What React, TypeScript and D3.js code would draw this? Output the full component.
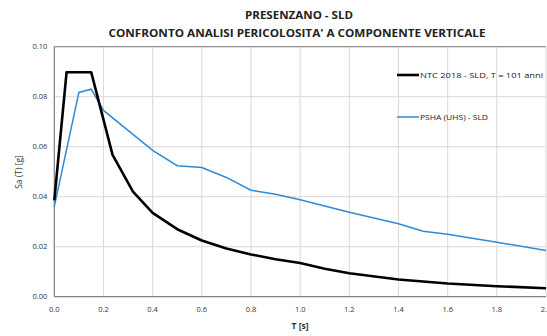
import React from "react";
import * as d3 from "d3";

const ntcT = [0, 0.05, 0.15, 0.237, 0.32, 0.4, 0.5, 0.6, 0.7, 0.8, 0.9, 1.0, 1.1, 1.2, 1.4, 1.6, 1.8, 2.0];
const ntcSa = [0.0385, 0.0898, 0.0898, 0.0567, 0.042, 0.0335, 0.027, 0.0225, 0.0193, 0.0169, 0.015, 0.0135, 0.0112, 0.0094, 0.0069, 0.0053, 0.0042, 0.0034];
const pshaT = [0, 0.1, 0.15, 0.2, 0.3, 0.4, 0.5, 0.6, 0.7, 0.8, 0.9, 1.0, 1.2, 1.4, 1.5, 1.6, 1.8, 2.0];
const pshaSa = [0.036, 0.0817, 0.083, 0.0745, 0.0665, 0.0585, 0.0524, 0.0517, 0.0477, 0.0426, 0.041, 0.0388, 0.0338, 0.0292, 0.0262, 0.025, 0.0218, 0.0185];
const xTicks = [0, 0.2, 0.4, 0.6, 0.8, 1.0, 1.2, 1.4, 1.6, 1.8, 2.0];
const yTicks = [0, 0.02, 0.04, 0.06, 0.08, 0.1];
const seriesNames = ["NTC 2018 - SLD, T = 101 anni", "PSHA (UHS) - SLD"];
const titleLines = ["PRESENZANO - SLD", "CONFRONTO ANALISI PERICOLOSITA' A COMPONENTE VERTICALE"];

export default function App() {
  const W = 547, H = 336;
  const left = 54.3, right = 546, top = 46.7, bottom = 296.7;
  const x = d3.scaleLinear().domain([0, 2]).range([left, right]);
  const y = d3.scaleLinear().domain([0, 0.1]).range([bottom, top]);
  const line = d3.line<[number, number]>().x(d => x(d[0])).y(d => y(d[1]));
  const ntc = ntcT.map((t, i) => [t, ntcSa[i]] as [number, number]);
  const psha = pshaT.map((t, i) => [t, pshaSa[i]] as [number, number]);
  const font = "'Open Sans', 'Liberation Sans', sans-serif";
  return (
    <svg width={W} height={H} style={{ position: "absolute", left: 0, top: 0, background: "#fff" }} fontFamily={font}>
      <rect width={W} height={H} fill="#fff" />
      {xTicks.slice(1).map(t => (
        <line key={"gx" + t} x1={x(t)} x2={x(t)} y1={top} y2={bottom} stroke="#d9d9d9" strokeWidth={1} />
      ))}
      {yTicks.slice(1).map(t => (
        <line key={"gy" + t} x1={left} x2={right} y1={y(t)} y2={y(t)} stroke="#d9d9d9" strokeWidth={1} />
      ))}
      <line x1={left} x2={right} y1={top} y2={top} stroke="#808080" strokeWidth={1} />
      <line x1={left} x2={left} y1={top} y2={bottom} stroke="#808080" strokeWidth={1.2} />
      <line x1={left} x2={right} y1={bottom} y2={bottom} stroke="#808080" strokeWidth={1.2} />
      {yTicks.map(t => (
        <text key={"ly" + t} x={left - 7} y={y(t) + 2.5} fontSize={7.5} textAnchor="end" fill="#333">{t.toFixed(2)}</text>
      ))}
      {xTicks.map(t => (
        <text key={"lx" + t} x={x(t)} y={bottom + 15} fontSize={7.5} textAnchor="middle" fill="#333">{t.toFixed(1)}</text>
      ))}
      <path d={line(psha) || ""} fill="none" stroke="#2f8ad6" strokeWidth={1.5} />
      <path d={line(ntc) || ""} fill="none" stroke="#000" strokeWidth={2.6} strokeLinejoin="round" />
      <text x={299} y={19} fontSize={11} fontWeight="bold" textAnchor="middle" fill="#222" textLength={108} lengthAdjust="spacingAndGlyphs">{titleLines[0]}</text>
      <text x={297} y={37} fontSize={11} fontWeight="bold" textAnchor="middle" fill="#222" textLength={377} lengthAdjust="spacingAndGlyphs">{titleLines[1]}</text>
      <text x={300} y={329} fontSize={8.5} fontWeight="bold" textAnchor="middle" fill="#333">T [s]</text>
      <text transform={`translate(22,172) rotate(-90)`} fontSize={8.5} textAnchor="middle" fill="#333">Sa (T) [g]</text>
      <line x1={397} x2={419} y1={75} y2={75} stroke="#000" strokeWidth={2.6} />
      <text x={420} y={78} fontSize={7.5} fill="#222" textLength={123} lengthAdjust="spacingAndGlyphs">{seriesNames[0]}</text>
      <line x1={397} x2={419} y1={117} y2={117} stroke="#2f8ad6" strokeWidth={1.5} />
      <text x={420} y={120} fontSize={7.5} fill="#222" textLength={68} lengthAdjust="spacingAndGlyphs">{seriesNames[1]}</text>
    </svg>
  );
}
